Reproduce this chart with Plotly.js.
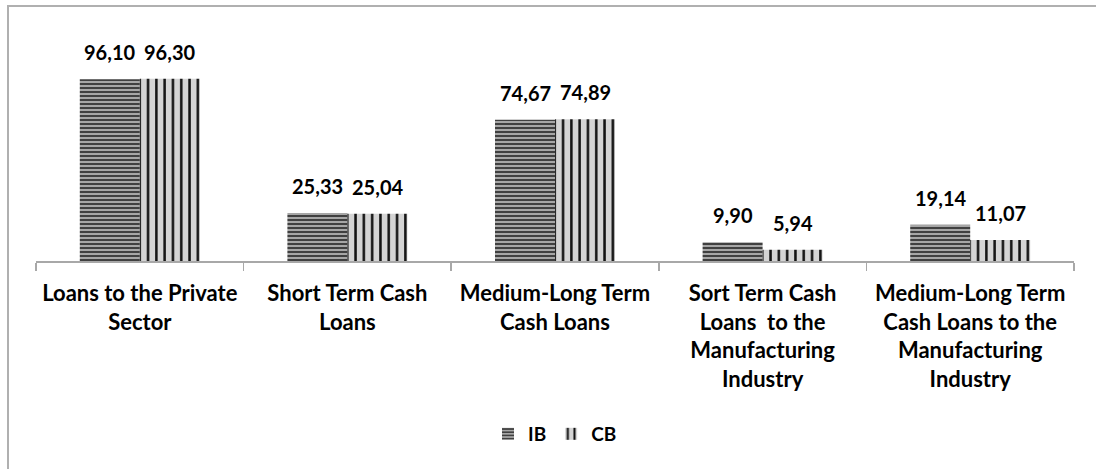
<!DOCTYPE html>
<html>
<head>
<meta charset="utf-8">
<script src="https://cdn.plot.ly/plotly-3.0.1.min.js"></script>
<style>
  html, body { margin: 0; padding: 0; background: #ffffff; overflow: hidden; }
  #frame { position: absolute; left: 7px; top: 5px; width: 1200px; height: 600px;
           border-left: 2px solid #b0b0b0; border-top: 2px solid #b0b0b0; box-sizing: border-box; }
  #chart { position: absolute; left: 0; top: 0; width: 1096px; height: 469px; }
</style>
</head>
<body>
<div id="frame"></div>
<div id="chart"></div>
<script>
const categories = [
  "Loans to the Private<br>Sector",
  "Short Term Cash<br>Loans",
  "Medium-Long Term<br>Cash Loans",
  "Sort Term Cash<br>Loans  to the<br>Manufacturing<br>Industry",
  "Medium-Long Term<br>Cash Loans to the<br>Manufacturing<br>Industry"
];
const seriesNames = ["IB", "CB"];
const ibValues = [96.10, 25.33, 74.67, 9.90, 19.14];
const cbValues = [96.30, 25.04, 74.89, 5.94, 11.07];

const FONT = "Lato, 'Open Sans', 'DejaVu Sans', sans-serif";
const fmt = v => v.toFixed(2).replace('.', ',');

const traces = [
  {
    type: 'bar', name: seriesNames[0], x: categories, y: ibValues,
    marker: { color: '#a6a6a6', line: { width: 0 },
      pattern: { shape: '-', fgcolor: '#404040', bgcolor: '#a6a6a6', size: 4, solidity: 0.5, fillmode: 'replace' } },
    hoverinfo: 'none'
  },
  {
    type: 'bar', name: seriesNames[1], x: categories, y: cbValues,
    marker: { color: '#d4d4d4', line: { width: 0 },
      pattern: { shape: '|', fgcolor: '#111111', bgcolor: '#d4d4d4', size: 8.3, solidity: 0.3, fillmode: 'replace' } },
    hoverinfo: 'none'
  }
];

const annotations = [];
const allSeries = [ibValues, cbValues];
allSeries.forEach((vals, si) => {
  vals.forEach((v, i) => {
    annotations.push({
      x: categories[i], y: v, xref: 'x', yref: 'y',
      text: fmt(v), showarrow: false,
      xshift: si === 0 ? -30 : 30, yshift: 13,
      yanchor: 'bottom', xanchor: 'center',
      font: { family: FONT, size: 20, color: '#000000', weight: 'bold' }
    });
  });
});

const layout = {
  width: 1096, height: 469,
  margin: { l: 36, r: 22, t: 34, b: 208, pad: 0 },
  paper_bgcolor: 'rgba(0,0,0,0)', plot_bgcolor: 'rgba(0,0,0,0)',
  barmode: 'group', bargap: 0.422, bargroupgap: 0,
  font: { family: FONT, color: '#000000' },
  xaxis: {
    type: 'category', showline: true, linecolor: '#a8a8a8', linewidth: 1.5,
    ticks: 'outside', tickson: 'boundaries', ticklen: 8, tickcolor: '#a8a8a8', tickwidth: 1.5,
    ticklabelstandoff: 12,
    tickfont: { family: FONT, size: 22, color: '#000000', weight: 'bold' },
    showgrid: false, zeroline: false, fixedrange: true
  },
  yaxis: {
    range: [0, 120], visible: false, showgrid: false, zeroline: false, fixedrange: true
  },
  showlegend: true,
  legend: {
    orientation: 'h', x: 0.5, xanchor: 'center', y: -0.762, yanchor: 'middle',
    font: { family: FONT, size: 19, color: '#000000', weight: 'bold' },
    itemwidth: 30, traceorder: 'normal'
  },
  annotations: annotations
};

Plotly.newPlot('chart', traces, layout, { staticPlot: true, displayModeBar: false });
</script>
</body>
</html>
